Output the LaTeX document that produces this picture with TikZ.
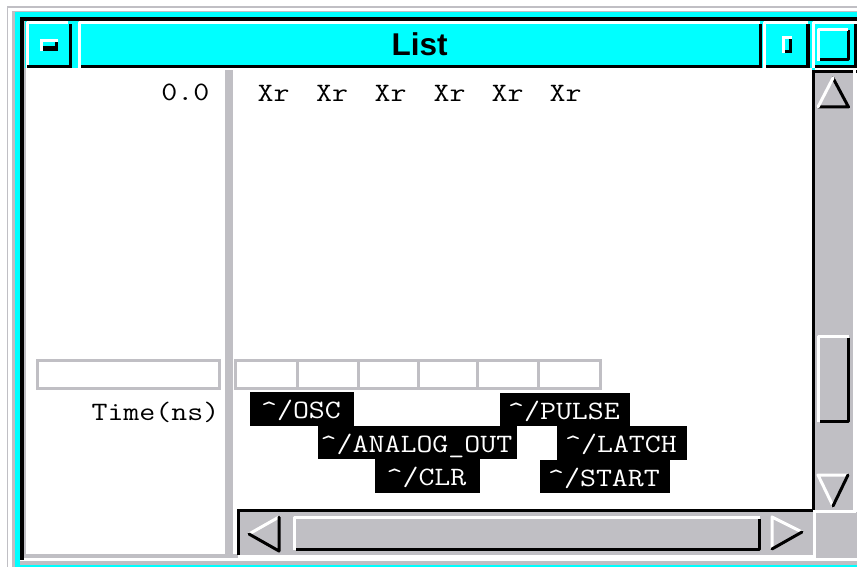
\documentclass[tikz,border=0pt]{standalone}
\usepackage{fontspec}
\setmainfont{Liberation Sans}
\newfontfamily\cour[FakeStretch=1.17]{Latin Modern Mono}
\definecolor{panel}{HTML}{C0BFC4}
\definecolor{ttl}{HTML}{00FFFF}
\tikzset{
  x=1pt,y=-1pt,
  mono/.style={font=\fontsize{26.5}{28}\selectfont\cour,inner sep=0pt,text=black},
  sig/.style={mono,fill=black,text=white,minimum height=33.5pt,text height=20pt,text depth=1pt},
  wline/.style={draw=white,line width=3pt,line cap=round,line join=round},
  bline/.style={draw=black,line width=3pt,line cap=round,line join=round},
  grid/.style={draw=panel,line width=3pt},
}
\begin{document}
\begin{tikzpicture}
\useasboundingbox (0,0) rectangle (857,567);
\fill[white] (0,0) rectangle (857,567);
% outer frame
\draw[panel,line width=1.5pt] (7.5,567) -- (7.5,7) -- (857,7);
\fill[panel] (12,11) rectangle (857,567);
\fill[ttl] (15,12.5) rectangle (857,567);
\fill[panel] (20,558) rectangle (857,565);
\fill[white] (20,558) rectangle (857,560.5);
\fill[black] (20,17) rectangle (857,21);
\fill[black] (20,17) rectangle (23.5,560);
\fill[panel] (23.5,21) rectangle (25.5,558);
% client area
\fill[white] (25.5,68) rectangle (812,554);
\fill[panel] (25.5,554) rectangle (240,558);
\fill[panel] (225,70) rectangle (233,554);
% title bar pieces
\fill[ttl] (25,21) rectangle (857,68);
\draw[wline,line cap=butt] (27,68) -- (27,23) -- (68,23);
\fill[black] (68.5,24) rectangle (72,68);
\fill[black] (27,65) rectangle (72,68);
\fill[white] (40,39) rectangle (58,51);
\fill[ttl] (43,42) rectangle (58,46);
\fill[black] (43,46) rectangle (58,51);
\fill[black] (55,42) rectangle (58,51);
\draw[wline,line cap=butt] (79.5,68) -- (79.5,23) -- (760,23);
\fill[black] (758.5,24) rectangle (762,68);
\fill[black] (81,65) rectangle (762,68);
\draw[wline,line cap=butt] (764.5,68) -- (764.5,22.5) -- (808,22.5);
\fill[black] (806,24) rectangle (809.5,68);
\fill[black] (766,65) rectangle (809.5,68);
\fill[white] (782,36) rectangle (792,53);
\fill[ttl] (785,39) rectangle (792,50);
\fill[black] (788.5,39) rectangle (792,53);
\fill[black] (785,50) rectangle (792,53);
\draw[wline,line cap=butt] (813.5,68) -- (813.5,22.5) -- (857,22.5);
\fill[black] (815,65) rectangle (857,68);
\fill[black] (854,24) rectangle (857,68);
\draw[bline,line cap=butt] (820,59.5) -- (848,59.5) -- (848,30);
\draw[wline,line cap=butt] (818.5,61) -- (818.5,29.5) -- (848,29.5);
\node[font=\fontsize{31.5}{33}\selectfont\bfseries,inner sep=0pt,anchor=base] (title) at (419.5,55.5) {List};
% vertical scrollbar
\fill[white] (815,68) rectangle (857,558);
\fill[panel] (815,73) rectangle (853,510);
\fill[black] (811.5,70) rectangle (815,511);
\fill[black] (811.5,70) rectangle (857,73);
\draw[bline] (833,78) -- (848.5,107) -- (818,107);
\draw[wline] (818,107) -- (833,78);
\draw[wline,line cap=butt] (818.5,422) -- (818.5,336.5) -- (849,336.5);
\draw[bline,line cap=butt] (820,421.5) -- (848.5,421.5) -- (848.5,338);
\draw[wline] (833,506) -- (818,475) -- (848,475);
\draw[bline] (848,475) -- (833,506);
% horizontal scrollbar
\fill[panel] (240,511) rectangle (813,555);
\fill[black] (237,509) rectangle (815,511.5);
\fill[black] (237,509) rectangle (240,555);
\fill[panel] (815,512) rectangle (857,558);
\fill[white] (813,510) rectangle (815.5,558);
\fill[white] (815,510) rectangle (855.5,512.5);
\fill[white] (853,68) rectangle (855.5,512);
\fill[white] (238,555) rectangle (815.5,558);
\draw[wline] (249,534) -- (279,517);
\draw[bline] (249,534) -- (279,551) -- (279,517);
\draw[wline,line cap=butt] (294.5,550) -- (294.5,517.5) -- (760,517.5);
\draw[bline,line cap=butt] (296,549.5) -- (759.5,549.5) -- (759.5,519);
\draw[wline] (772,549) -- (772,517) -- (802,532);
\draw[bline] (802,532) -- (772,549);
% cursor cells
\draw[grid] (37.5,360.5) rectangle (219.5,388.5);
\draw[grid] (235.5,360.5) rectangle (600,388.5);
\foreach \cx in {297,358,418,477,538}{\draw[grid] (\cx,360.5) -- (\cx,388.5);}
% texts
\node[mono,anchor=base east] (t0) at (209.5,101) {0.0};
\node[mono,anchor=base east] (tlab) at (219.5,420.5) {Time(ns)};
\node[mono,anchor=base west] (x1) at (257.5,102) {Xr};
\node[mono,anchor=base west] (x2) at (316,102) {Xr};
\node[mono,anchor=base west] (x3) at (374.5,102) {Xr};
\node[mono,anchor=base west] (x4) at (433.5,102) {Xr};
\node[mono,anchor=base west] (x5) at (491.5,102) {Xr};
\node[mono,anchor=base west] (x6) at (549.5,102) {Xr};
\node[sig,minimum width=104pt] (osc) at (302,409) {\hspace{-2pt}\textasciicircum/OSC};
\node[sig,minimum width=130pt] (pulse) at (565,409.5) {\hspace{-2pt}\textasciicircum/PULSE};
\node[sig,minimum width=199pt] (aout) at (417.5,442.5) {\hspace{-2pt}\textasciicircum/ANALOG\_OUT};
\node[sig,minimum width=130pt] (latch) at (622,443) {\hspace{-2pt}\textasciicircum/LATCH};
\node[sig,minimum width=105pt] (clr) at (427.5,476) {\hspace{-2pt}\textasciicircum/CLR};
\node[sig,minimum width=130pt] (start) at (605,476.5) {\hspace{-2pt}\textasciicircum/START};
\end{tikzpicture}
\end{document}
